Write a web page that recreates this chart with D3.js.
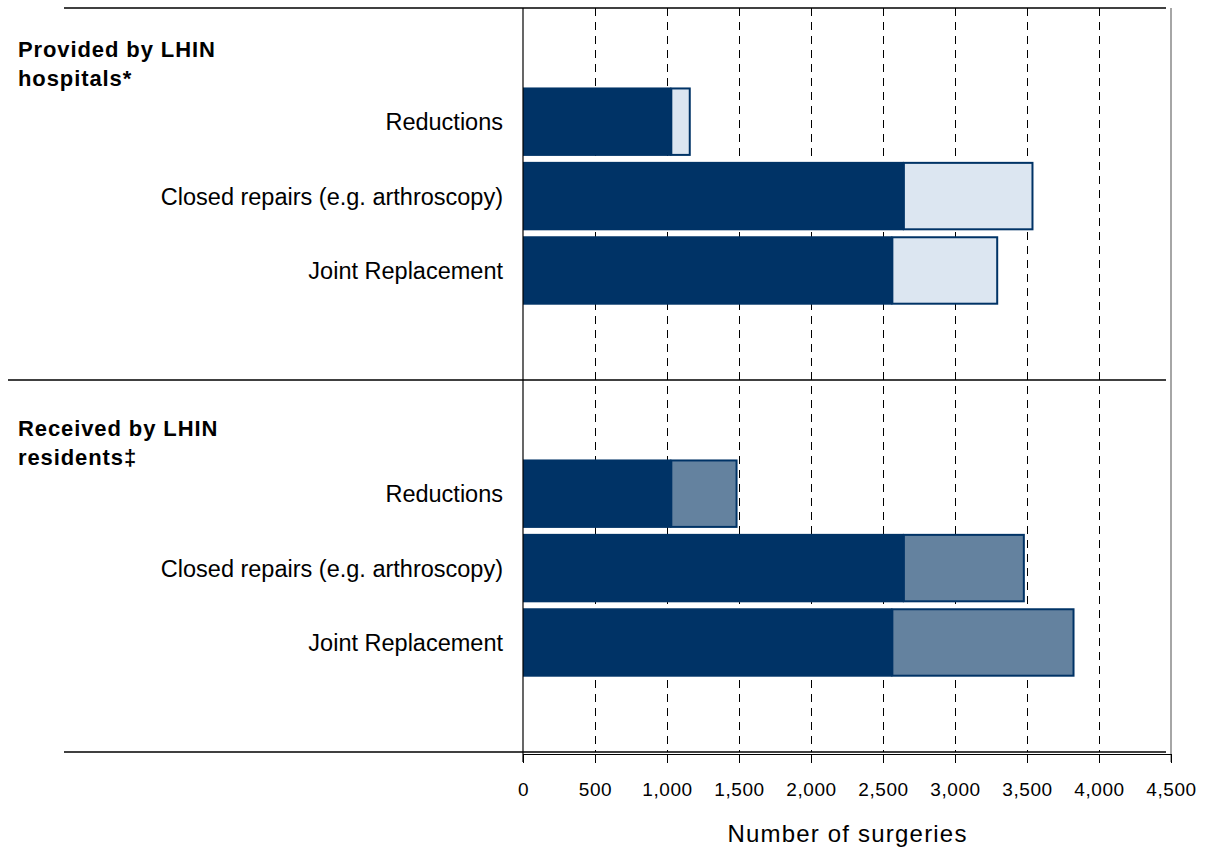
<!DOCTYPE html>
<html>
<head>
<meta charset="utf-8">
<script src="https://cdn.jsdelivr.net/npm/d3@7"></script>
<style>
  html, body { margin: 0; padding: 0; background: #fff; }
  svg { display: block; font-family: "Liberation Sans", Arial, sans-serif; }
</style>
</head>
<body>
<svg id="chart" width="1207" height="850"></svg>
<script>
// ---- Data ----
const groups = ["Provided by LHIN hospitals*", "Received by LHIN residents‡"];
const groupLines = [["Provided by LHIN", "hospitals*"], ["Received by LHIN", "residents‡"]];
const categories = ["Reductions", "Closed repairs (e.g. arthroscopy)", "Joint Replacement"];
const withinLHIN = [1030, 2645, 2565];          // dark segment (same in both groups)
const providedOutside = [135, 900, 735];        // light segment, provided by LHIN hospitals
const receivedOutside = [460, 840, 1265];       // medium segment, received by LHIN residents
const xTicks = [0, 500, 1000, 1500, 2000, 2500, 3000, 3500, 4000, 4500];
const xTitle = "Number of surgeries";

// ---- Layout ----
const svg = d3.select("#chart");
const x0 = 523, x1 = 1171, yTop = 8, yBottom = 752;
const darkColor = "#003366", lightColor = "#dce6f1", midColor = "#64829f";

const x = d3.scaleLinear().domain([0, 4500]).range([x0, x1]);
const gScale = d3.scaleBand().domain(groups).range([yTop, yBottom]).padding(0);
const slots = ["top", ...categories, "bottom"];
const inner = d3.scaleBand().domain(slots).range([0, gScale.bandwidth()])
  .paddingInner(0.08).paddingOuter(0.04).align(0.85);

const outsideByGroup = [providedOutside, receivedOutside];
const outsideColor = [lightColor, midColor];

// gridlines (dashed)
svg.append("g").selectAll("line")
  .data(xTicks.filter(t => t > 0 && t < 4500))
  .join("line")
  .attr("x1", d => Math.round(x(d)) + 0.5).attr("x2", d => Math.round(x(d)) + 0.5)
  .attr("y1", yTop).attr("y2", yBottom)
  .attr("stroke", "#000").attr("stroke-width", 1)
  .attr("stroke-dasharray", "8,6");

// bars
groups.forEach((g, gi) => {
  const gy = gScale(g);
  const rows = categories.map((c, i) => ({
    c, dark: withinLHIN[i], other: outsideByGroup[gi][i]
  }));
  const grp = svg.append("g");
  grp.selectAll("rect.dark").data(rows).join("rect")
    .attr("class", "dark")
    .attr("x", x(0))
    .attr("y", d => gy + inner(d.c))
    .attr("width", d => x(d.dark) - x(0))
    .attr("height", inner.bandwidth())
    .attr("fill", darkColor);
  grp.selectAll("rect.other").data(rows).join("rect")
    .attr("class", "other")
    .attr("x", d => x(d.dark))
    .attr("y", d => gy + inner(d.c) + 1)
    .attr("width", d => x(d.dark + d.other) - x(d.dark) - 1)
    .attr("height", inner.bandwidth() - 2)
    .attr("fill", outsideColor[gi])
    .attr("stroke", darkColor).attr("stroke-width", 2);

  // category labels
  grp.selectAll("text.cat").data(rows).join("text")
    .attr("class", "cat")
    .attr("x", 503)
    .attr("y", d => gy + inner(d.c) + inner.bandwidth() / 2)
    .attr("dy", "0.36em")
    .attr("text-anchor", "end")
    .attr("font-size", 23.5)
    .attr("fill", "#000")
    .text(d => d.c);

  // group heading
  const headOffset = gi === 0 ? 49 : 56;
  const ht = svg.append("text")
    .attr("x", 18)
    .attr("y", gy + headOffset)
    .attr("font-size", 22)
    .attr("font-weight", "bold")
    .attr("letter-spacing", "0.9px")
    .attr("fill", "#000");
  groupLines[gi].forEach((line, li) => {
    ht.append("tspan").attr("x", 18).attr("dy", li === 0 ? 0 : 29).text(line);
  });
});

// horizontal separators
svg.append("line").attr("x1", 64).attr("x2", 1166).attr("y1", yTop).attr("y2", yTop)
  .attr("stroke", "#000").attr("stroke-width", 1.5);
svg.append("line").attr("x1", 8).attr("x2", 1166).attr("y1", gScale(groups[1])).attr("y2", gScale(groups[1]))
  .attr("stroke", "#000").attr("stroke-width", 1.5);
svg.append("line").attr("x1", 64).attr("x2", 1166).attr("y1", yBottom).attr("y2", yBottom)
  .attr("stroke", "#000").attr("stroke-width", 1.5);

// right border
svg.append("line").attr("x1", x1).attr("x2", x1).attr("y1", yTop).attr("y2", yBottom + 10)
  .attr("stroke", "#888").attr("stroke-width", 1.5);

// vertical axis line
svg.append("line").attr("x1", x0).attr("x2", x0).attr("y1", yTop).attr("y2", yBottom + 10)
  .attr("stroke", "#000").attr("stroke-width", 1.2);

// x axis
const axis = d3.axisBottom(x).tickValues(xTicks).tickSize(9).tickPadding(20)
  .tickFormat(d3.format(","));
const ax = svg.append("g").attr("transform", `translate(0,${yBottom + 2})`).call(axis);
ax.select(".domain").attr("stroke", "#000").attr("stroke-width", 1);
ax.selectAll(".tick line").attr("stroke", "#000");
ax.selectAll(".tick text").attr("font-size", 19).attr("fill", "#000")
  .attr("font-family", "'Liberation Sans', Arial, sans-serif").attr("letter-spacing", "0.6px");

// axis title
svg.append("text")
  .attr("x", (727 + 968) / 2).attr("y", 842)
  .attr("text-anchor", "middle")
  .attr("font-size", 24)
  .attr("letter-spacing", "1.2px")
  .attr("fill", "#000")
  .text(xTitle);
</script>
</body>
</html>
